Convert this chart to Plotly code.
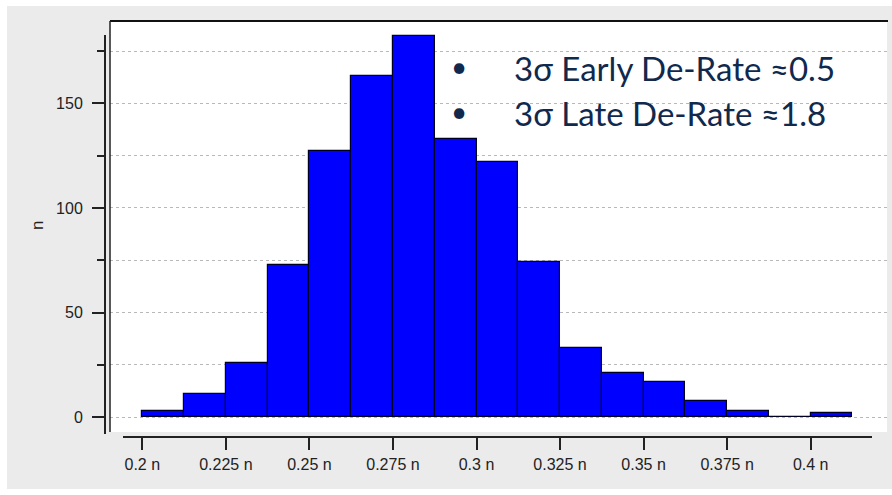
import plotly.graph_objects as go

# ---- data ----
bin_start = 0.2
bin_width = 0.0125
counts = [3, 11, 26, 73, 127, 163, 182, 133, 122, 74, 33, 21, 17, 8, 3, 0, 2]

x_tick_vals = [0.2, 0.225, 0.25, 0.275, 0.3, 0.325, 0.35, 0.375, 0.4]
x_tick_text = ["0.2 n", "0.225 n", "0.25 n", "0.275 n", "0.3 n", "0.325 n", "0.35 n", "0.375 n", "0.4 n"]
y_tick_vals = [0, 50, 100, 150]
y_tick_text = ["0", "50", "100", "150"]
y_minor_step = 25
y_title = "n"
notes = ["3σ Early De-Rate ≈0.5", "3σ Late De-Rate ≈1.8"]

W, H = 892, 495
centers = [bin_start + bin_width * (i + 0.5) for i in range(len(counts))]

def px(x):
    return x / W

def py(y):
    return 1 - y / H

fig = go.Figure()
fig.add_trace(go.Bar(
    x=centers, y=counts, width=bin_width,
    marker=dict(color="#0000ff", line=dict(color="#000022", width=1.2)),
    hoverinfo="x+y",
))

# pixel geometry of the plot
plot_l, plot_r, plot_t, plot_b = 110, 887, 21, 432
zero_px, y175_px = 417.3, 51.0
ppu_y = (zero_px - y175_px) / 175
y_top = (zero_px - plot_t) / ppu_y
y_bot = -(plot_b - zero_px) / ppu_y
x02_px, x04_px = 142.3, 810.7
ppu_x = (x04_px - x02_px) / 0.2
x_left = 0.2 - (x02_px - plot_l) / ppu_x
x_right = 0.2 + (plot_r - x02_px) / ppu_x

x_tick_font = dict(family="Liberation Sans, Arial, sans-serif", size=16, color="#222222")
y_tick_font = dict(family="Liberation Sans, Arial, sans-serif", size=16, color="#222222")

fig.update_layout(
    width=W, height=H,
    margin=dict(l=0, r=0, t=0, b=0),
    paper_bgcolor="white",
    plot_bgcolor="rgba(0,0,0,0)",
    showlegend=False,
    bargap=0,
    xaxis=dict(
        domain=[px(plot_l), px(plot_r)],
        range=[x_left, x_right],
        anchor="free", position=py(437),
        showline=False, showgrid=False, zeroline=False,
        tickmode="array", tickvals=x_tick_vals, ticktext=x_tick_text,
        ticks="outside", ticklen=12, tickwidth=1.5, tickcolor="#222222",
        tickfont=x_tick_font, ticklabelstandoff=1,
        automargin=False,
    ),
    yaxis=dict(
        domain=[py(plot_b), py(plot_t)],
        range=[y_bot, y_top],
        anchor="free", position=px(105),
        showline=False, zeroline=False,
        tickmode="array", tickvals=y_tick_vals, ticktext=y_tick_text,
        ticks="outside", ticklen=13, tickwidth=1.5, tickcolor="#222222",
        tickfont=y_tick_font, ticklabelstandoff=6,
        showgrid=True, gridcolor="#b8b8b8", gridwidth=1, griddash="dot",
        minor=dict(dtick=y_minor_step, tick0=0, ticks="outside", ticklen=8,
                   tickwidth=1.5, tickcolor="#222222",
                   showgrid=True, gridcolor="#b8b8b8", gridwidth=1, griddash="dot"),
        automargin=False,
    ),
)

shapes = [
    # grey panel
    dict(type="rect", xref="paper", yref="paper", x0=px(7), x1=1, y0=py(489), y1=py(6),
         fillcolor="#ebebeb", line=dict(width=0), layer="below"),
    # white plot panel
    dict(type="rect", xref="paper", yref="paper", x0=px(plot_l), x1=px(plot_r), y0=py(plot_b), y1=py(plot_t),
         fillcolor="white", line=dict(width=0), layer="below"),
    # top border
    dict(type="line", xref="paper", yref="paper", x0=px(plot_l), x1=px(plot_r + 1), y0=py(plot_t), y1=py(plot_t),
         line=dict(color="#111111", width=2)),
    # left border
    dict(type="line", xref="paper", yref="paper", x0=px(plot_l), x1=px(plot_l), y0=py(plot_b), y1=py(plot_t),
         line=dict(color="#222222", width=1.5)),
    # y axis line
    dict(type="line", xref="paper", yref="paper", x0=px(105), x1=px(105), y0=py(434), y1=py(35),
         line=dict(color="#222222", width=2)),
    # x axis line
    dict(type="line", xref="paper", yref="paper", x0=px(123), x1=px(872), y0=py(437), y1=py(437),
         line=dict(color="#222222", width=2)),
]
fig.update_layout(shapes=shapes)

annos = [
    dict(text=y_title, x=px(37), y=py(226), xref="paper", yref="paper", textangle=-90,
         xanchor="center", yanchor="middle",
         showarrow=False, font=dict(family="Liberation Sans, Arial, sans-serif", size=17, color="#222222")),
]
note_font = dict(family="Lato, Carlito, sans-serif", size=33, color="#10294d")
bullet_font = dict(family="Lato, Carlito, sans-serif", size=28, color="#10294d")
for i, t in enumerate(notes):
    yc = 68 + 45 * i
    annos.append(dict(text="•", x=px(459), y=py(yc - 2), xref="paper", yref="paper", xanchor="center",
                      yanchor="middle", showarrow=False, font=bullet_font))
    annos.append(dict(text=t, x=px(512), y=py(yc), xref="paper", yref="paper", xanchor="left",
                      yanchor="middle", showarrow=False, font=note_font))
fig.update_layout(annotations=annos)

fig.write_html("out.html", config={"displayModeBar": False},
               post_script="document.body.style.margin='0';document.body.style.overflow='hidden';")
